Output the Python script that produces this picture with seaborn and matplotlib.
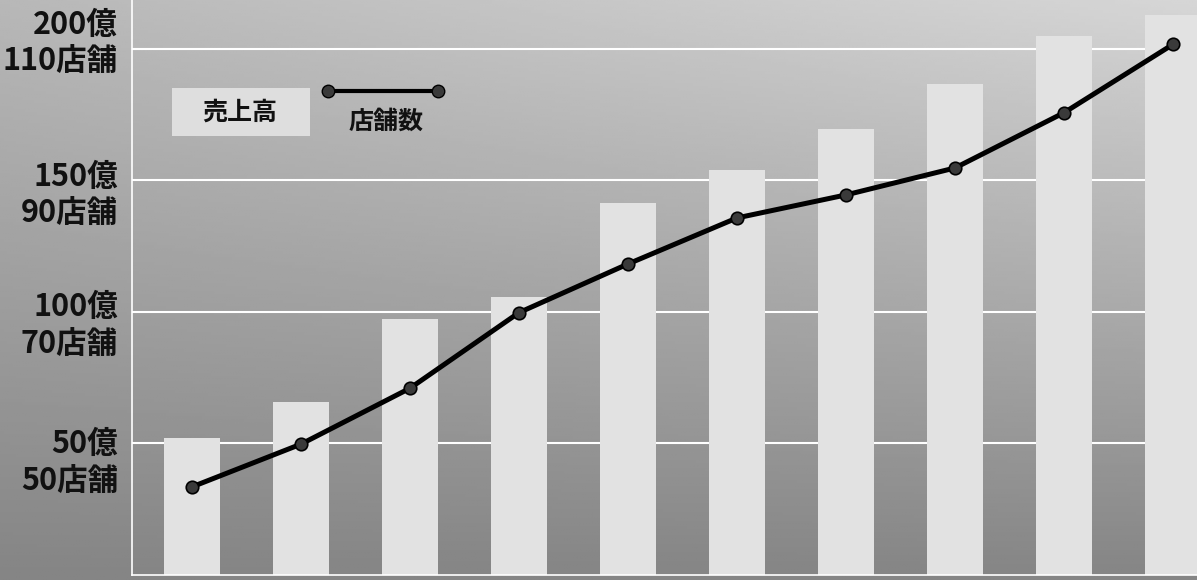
import numpy as np
import pandas as pd
import matplotlib
matplotlib.use("Agg")
import matplotlib.pyplot as plt
import seaborn as sns
from matplotlib.transforms import ScaledTranslation
from matplotlib.patches import Rectangle
from matplotlib.lines import Line2D

# ---- data ----
periods = [1, 2, 3, 4, 5, 6, 7, 8, 9, 10]
sales = [52.0, 65.7, 97.2, 105.5, 141.6, 154.1, 169.6, 186.7, 205.0, 213.0]   # 億円
stores = [43.4, 49.9, 58.4, 69.9, 77.3, 84.3, 87.8, 91.9, 100.3, 110.7]       # 店舗
sales_ticks = [50, 100, 150, 200]
sales_labels = ["50億", "100億", "150億", "200億"]
store_ticks = [50, 70, 90, 110]
store_labels = ["50店舗", "70店舗", "90店舗", "110店舗"]

plt.rcParams["font.family"] = ["Noto Sans CJK JP", "DejaVu Sans"]

W, H = 1197, 580
fig = plt.figure(figsize=(W / 100, H / 100), dpi=100)

# background gradient
bg = fig.add_axes([0, 0, 1, 1], zorder=-5)
yy, xx = np.mgrid[0:1:200j, 0:1:400j]
grad = 0.52 + 0.20 * (1 - yy) + 0.12 * xx * (1 - yy)
bg.imshow(grad, cmap="gray", vmin=0, vmax=1, aspect="auto", extent=[0, 1, 0, 1], origin="upper")
bg.axis("off")

ax = fig.add_axes([132 / W, 5 / H, 1065 / W, 575 / H])
ax.set_facecolor("none")
df = pd.DataFrame({"period": periods, "sales": sales, "stores": stores})
sns.barplot(data=df, x="period", y="sales", ax=ax, color="#e2e2e2",
            width=0.52, saturation=1, zorder=2)
ax.set_xlim(-0.55, 9.22)
ax.set_ylim(0, 218.6)
ax.set_yticks(sales_ticks)
ax.grid(axis="y", color="white", lw=1.5)
ax.grid(axis="x", visible=False)
ax.set_axisbelow(True)
ax.tick_params(length=0, labelleft=False, labelbottom=False)
ax.set_xlabel("")
ax.set_ylabel("")
for s in ["top", "right"]:
    ax.spines[s].set_visible(False)
for s in ["left", "bottom"]:
    ax.spines[s].set_color("white")
    ax.spines[s].set_linewidth(1.2)

ax2 = ax.twinx()
ax2.set_ylim(30, 30 + 0.4 * 218.6)
sns.lineplot(x=np.arange(len(stores)), y=stores, ax=ax2, color="black", lw=3.6,
             marker="o", markersize=9, markerfacecolor="#3a3a3a",
             markeredgecolor="black", markeredgewidth=1.2, zorder=5)
ax2.set_xlim(-0.55, 9.22)
ax2.tick_params(length=0, labelright=False)
ax2.set_ylabel("")
for s in ax2.spines.values():
    s.set_visible(False)

# axis labels (dual)
sales_dy = [0, 5, 3, 24]
for v, lab, dy in zip(sales_ticks, sales_labels, sales_dy):
    tr = ax.get_yaxis_transform() + ScaledTranslation(-14 / 100, dy / 100, fig.dpi_scale_trans)
    ax.text(0, v, lab, transform=tr, ha="right", va="center",
            fontsize=22, fontweight="bold", color="#111111")
store_dy = [-38, -33, -34, -13]
for v, lab, dy in zip(store_ticks, store_labels, store_dy):
    tr = ax2.get_yaxis_transform() + ScaledTranslation(-14 / 100, dy / 100, fig.dpi_scale_trans)
    ax2.text(0, v, lab, transform=tr, ha="right", va="center",
             fontsize=22, fontweight="bold", color="#111111")

# legend (hand-built)
fig.add_artist(Rectangle((172 / W, 1 - 136 / H), 138 / W, 48 / H,
                         transform=fig.transFigure, facecolor="#dedede",
                         edgecolor="none", zorder=3))
fig.text(240 / W, 1 - 113 / H, "売上高", ha="center", va="center",
         fontsize=18, fontweight="bold", color="#111111", zorder=4)
fig.add_artist(Line2D([328 / W, 438 / W], [1 - 91 / H, 1 - 91 / H],
                      transform=fig.transFigure, color="black", lw=3,
                      marker="o", markersize=9, markerfacecolor="#3a3a3a",
                      markeredgecolor="black", zorder=4))
fig.text(386 / W, 1 - 122 / H, "店舗数", ha="center", va="center",
         fontsize=18, fontweight="bold", color="#111111", zorder=4)

fig.savefig("out.png", dpi=100)
